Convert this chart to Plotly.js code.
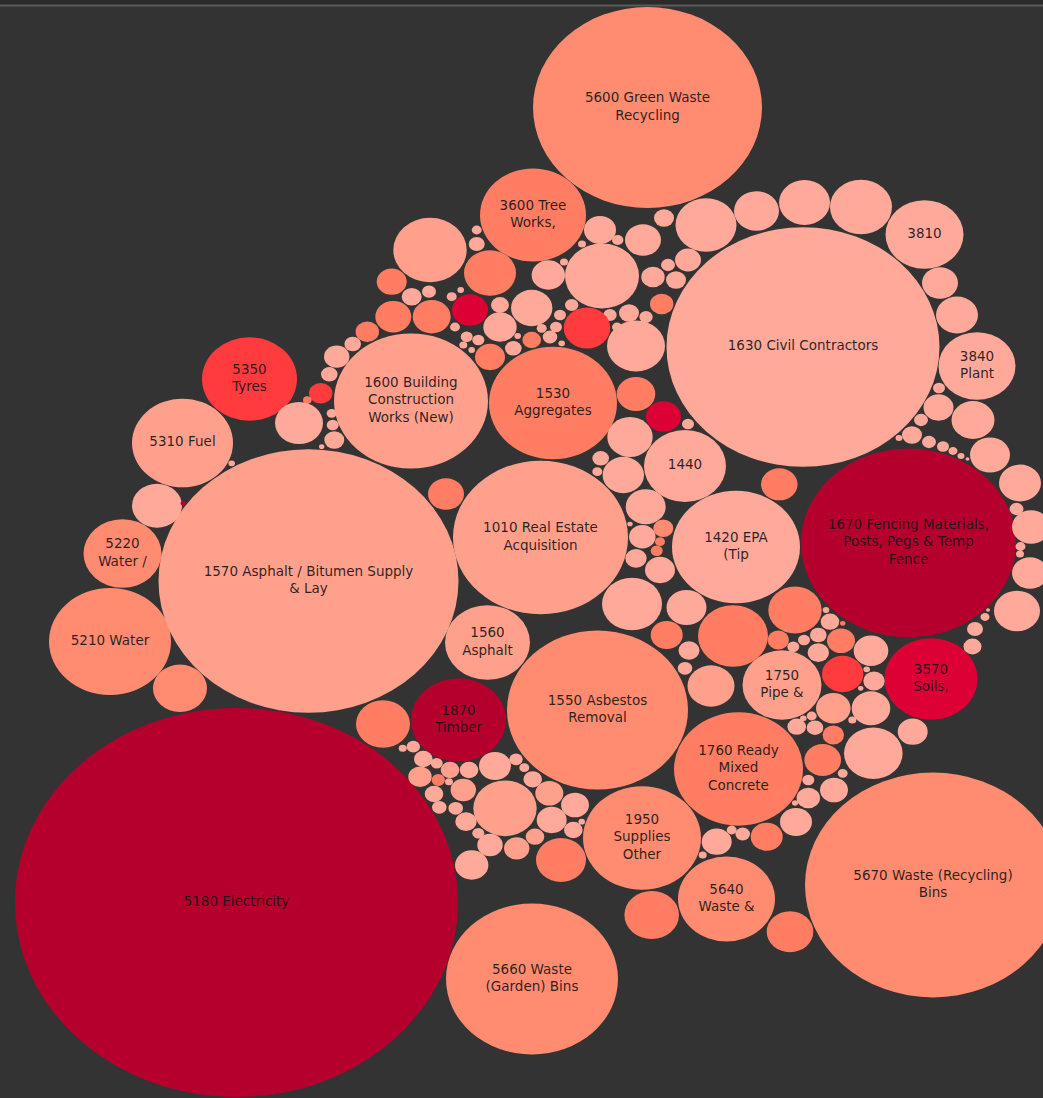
<!DOCTYPE html>
<html>
<head>
<meta charset="utf-8">
<script src="https://cdn.plot.ly/plotly-3.0.1.min.js"></script>
<style>
html,body{margin:0;padding:0;background:#333333;}
#chart{width:1043px;height:1098px;}
</style>
</head>
<body>
<div id="chart"></div>
<script>
// Account labels (first circles are labelled, the rest are small unlabelled accounts)
const labels = [
  "5600 Green Waste<br>Recycling", "3600 Tree<br>Works,", "1630 Civil Contractors", "3810", "3840<br>Plant",
  "1600 Building<br>Construction<br>Works (New)", "1530<br>Aggregates", "5350<br>Tyres", "5310 Fuel", "5220<br>Water /",
  "5210 Water", "1570 Asphalt / Bitumen Supply<br>& Lay", "5180 Electricity", "1010 Real Estate<br>Acquisition", "1440",
  "1420 EPA<br>(Tip", "1670 Fencing Materials,<br>Posts, Pegs & Temp<br>Fence", "3570<br>Soils,", "1560<br>Asphalt", "1870<br>Timber",
  "1550 Asbestos<br>Removal", "1750<br>Pipe &", "1760 Ready<br>Mixed<br>Concrete", "1950<br>Supplies<br>Other", "5640<br>Waste &",
  "5670 Waste (Recycling)<br>Bins", "5660 Waste<br>(Garden) Bins"
];

// Packed-bubble centres (x, y) and radii
const cx = [
  647.5,533,803,924.5,977,411,553,249.5,182.5,122.5,
  110,308.5,236.5,540.5,685,736,908.5,931,487.5,458.5,
  597.5,782,738.5,642,726.5,933,532,
  664,706,756.5,804.5,861,940,957,939,938.5,973,990,1020,921,912,929,943,953,961,967.5,899,1016.5,1031,1020.5,1020,1030,1017,988,985,975,972.5,
  643,688,668,653,676,661.7,646,629,610,617,587,636,636,663.5,688,602,600,582,617.7,548.3,564,531.7,571.7,560,556,550,561.7,531.7,513.3,541.7,500,517.7,490,455,466.7,478.3,463.3,471.7,500,470,431.7,393.3,391.7,411.7,429,451.7,460.7,430,490,476.7,476.7,367.3,352.7,336.7,329.3,320.7,307.3,299,331.7,332.7,334.3,321.7,
  231.7,157,183.3,180,
  446,630,600.7,597.3,623.3,645.7,642.3,663.3,660,656.7,636,660,632,686.5,779.3,666.7,689,685,711,733,630,
  795,778.3,793.3,804,818.3,818.3,830,826,842.7,841,871,842.7,874,871,833.3,852.3,811.7,803.3,796.7,815,833.3,912.7,873.3,822.7,842.7,834,808.3,808.3,795,796,866.7,860.7,
  716.7,702.7,731.7,742.7,766.7,651.7,790,575,573.3,581.7,561,383,402.7,413.3,423.3,436.7,420,450,469,495,516,524.3,532.7,438.3,449,463.3,434,505,549.3,439.3,455.7,466,478.3,490,516.7,535,551.7,471.7
];
const cy = [
  107.5,215,347,234.5,366,401,403,379,443,553.5,
  641.5,581,902.5,537.5,466,547,543,679,642.5,720,
  710,685,769,838,899,885,979,
  218,225,211,202.5,207,283,315,388,407.5,420,455,483,420,435,442,446.5,451,456,459,438,509,527,546.5,554,573,611,610,617,629,646.5,
  240,260,265,277,280,304,317,313,315,327,328,346,394,416.5,424,276,230,244,240,275,262,308,305,315,327,337,343.3,340,348.3,328.3,327,336,357,327,336.7,340,345,350,305,310,316.7,316.7,281.7,296.7,291.7,296.7,290,250,273,230,244,331.7,344,356.7,374.3,393.3,400,423,413.3,425,440,446.7,
  463.3,505.7,503.3,688.3,
  494,437,458.3,471.7,475,506.7,536.7,528.3,541.7,550.7,558.3,570,604,607.5,484.3,635,650.5,668.3,686,636,524,
  610,640,646.7,640,635,652.7,621.7,610,623.3,640.7,650.7,674,681,708.3,708.3,720,716,718.3,726.7,727.7,735,731.7,753.3,760,773.3,790,780,798,803,822,669.3,688.3,
  841.7,855,830,834,836.7,915,931.7,805,830,821.7,860,724,748.3,746.7,759,763.3,776.7,770,770,766,759.3,767.7,779.3,780,781.7,790,794,808.3,793.3,807.3,808.3,821.7,833.3,845,848.3,836.7,820,865
];
const r = [
  114.5,53,136.5,39,38.5,77,64,47.5,50.5,39,
  61,150,221.5,87.5,41,64,107.5,46.5,42.5,47.5,
  90.5,39.5,64.5,59,48.5,128,86,
  10,30.5,22.5,25.5,31,18,21,6,15,21.5,20,21,7,10,7,6,4.5,3.5,2,3.5,7,19,5,4,18,23,2,4.5,8,9,
  18,13,7,11.7,10,11.7,6.7,10,6.7,5,23.3,29,19.3,17.5,6,37,16,4,5.7,16.7,4,20.7,6.7,6,6,7.3,3.3,9.3,8.3,5,16.7,3.3,15,5,6,6,4,3.3,9,18,19,18,15,10,7,5,3.3,36.7,26,5,8,11.7,8.3,12.7,8.3,11.7,4.3,24,5,6,10,2.7,
  3.3,25,2.7,27,
  18,22.7,8.3,5,20.7,20,13.3,10,5,6,10.7,15,30,20,18.3,16,10.5,7.3,23.5,35,2.7,
  26.7,10.7,6,6,8.3,10.7,9.3,3.3,2.7,14,17.3,20.7,10.7,19.3,17.3,4,5,3.3,9.3,8.3,10.7,15,29.3,18.3,5,14,6,11.7,3,16,3.3,2.7,
  15,4,5,7.3,16,27.3,23.3,14,9.3,3.3,25,27,4,6.7,9.3,6,11.7,9.3,9.3,16,6.7,5,9.3,6.7,4,12.7,9.3,31.7,14,7.3,7.3,10.7,6,12.7,12.7,9.3,15,16.7
];
// Colour class of each circle (0 = darkest crimson ... 6 = palest pink)
const grp = [
  4,3,6,6,6,5,3,2,5,4,
  4,5,0,5,6,6,0,1,5,0,
  4,5,3,4,4,4,4,
  6,6,6,6,6,6,6,6,6,6,6,6,6,6,6,6,6,6,6,6,6,6,6,6,6,6,6,6,6,6,
  6,6,6,6,6,3,6,6,6,6,2,6,3,1,6,6,6,6,6,6,6,6,6,6,6,6,6,3,6,6,6,6,3,6,6,6,6,6,6,1,3,3,3,6,6,6,6,5,3,6,6,3,6,6,6,2,3,6,6,6,6,6,
  6,6,0,4,
  3,6,6,6,6,6,6,4,3,3,6,6,6,6,3,3,6,6,5,3,6,
  3,3,6,6,6,6,6,6,3,3,6,2,6,6,5,6,6,6,6,6,3,6,6,3,6,6,6,6,6,6,6,6,
  6,6,6,6,3,3,3,6,6,6,3,3,6,6,6,6,5,5,6,6,6,6,6,3,6,5,6,5,5,6,6,6,6,6,5,5,6,6
];

const palette = ['#b5002e', '#dc0034', '#ff3b3e', '#ff7d62', '#ff8b71', '#ffa08d', '#ffa99b'];
const ASPECT = 0.878;   // the picture is squeezed vertically

const shapes = [];
for (let i = 0; i < cx.length; i++) {
  shapes.push({
    type: 'circle', xref: 'x', yref: 'y', layer: 'below',
    x0: cx[i] - r[i], x1: cx[i] + r[i],
    y0: cy[i] - r[i] * ASPECT, y1: cy[i] + r[i] * ASPECT,
    fillcolor: palette[grp[i]], line: {width: 0}
  });
}
// top strip
shapes.push({type: 'rect', xref: 'paper', yref: 'y', x0: 0, x1: 1, y0: 0, y1: 5, fillcolor: '#2b2b2b', line: {width: 0}, layer: 'below'});
shapes.push({type: 'line', xref: 'paper', yref: 'y', x0: 0, x1: 1, y0: 5.5, y1: 5.5, line: {color: '#5a5a5a', width: 2}, layer: 'below'});

const trace = {
  type: 'scatter', mode: 'text',
  x: cx.slice(0, labels.length), y: cy.slice(0, labels.length), text: labels,
  textposition: 'middle center',
  textfont: {family: 'DejaVu Sans, sans-serif', size: 13.5, color: 'rgba(25,20,20,0.92)'},
  hoverinfo: 'skip', showlegend: false
};

const layout = {
  width: 1043, height: 1098,
  margin: {l: 0, r: 0, t: 0, b: 0, pad: 0},
  paper_bgcolor: '#333333', plot_bgcolor: '#333333',
  xaxis: {range: [0, 1043], visible: false, fixedrange: true},
  yaxis: {range: [1098, 0], visible: false, fixedrange: true},
  shapes: shapes, showlegend: false
};

Plotly.newPlot('chart', [trace], layout, {displayModeBar: false, staticPlot: true});
</script>
</body>
</html>
